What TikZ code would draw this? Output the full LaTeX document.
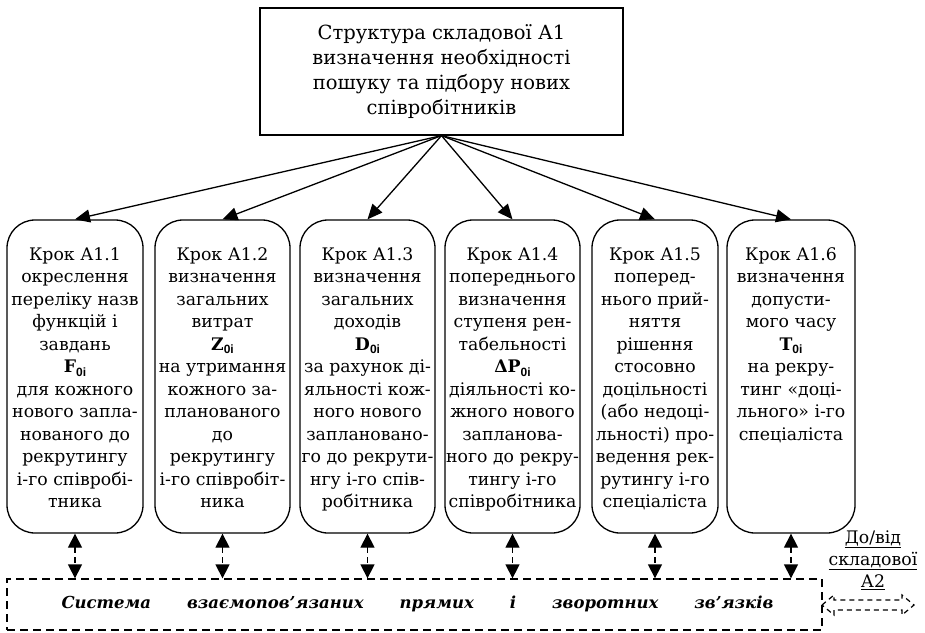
\documentclass[tikz,border=0pt]{standalone}
\usepackage{fontspec}
\setmainfont{DejaVu Serif}
\newfontfamily\subfont{Liberation Sans}
\usetikzlibrary{arrows.meta}

% bold symbol with a bold sans subscript
\newcommand{\idx}[2]{\textbf{#1}\raisebox{-0.4ex}{\subfont\bfseries\fontsize{12}{12}\selectfont #2}}

\tikzset{
  stepbox/.style={draw, line width=1.3pt, rounded corners=28pt, inner sep=0pt,
                  minimum height=313pt},
  steptext/.style={anchor=north, inner sep=0pt, align=center,
                   font=\fontsize{17.3}{22.5}\selectfont},
  toparrow/.style={line width=1.3pt, -{Triangle[length=15pt,width=13pt]}},
  biarrow/.style={line width=1.3pt, dash pattern=on 6pt off 4pt,
                  {Triangle[length=14pt,width=14pt]}-{Triangle[length=14pt,width=14pt]}},
}

\begin{document}
\begin{tikzpicture}[x=1pt,y=-1pt]
\useasboundingbox (0,0) rectangle (925,632);

% heading box
\node[draw, line width=1.2pt, minimum width=363pt, minimum height=127pt,
      align=center, font=\fontsize{19.5}{25}\selectfont] (top) at (441.5,71.5)
  {Структура складової А1\\визначення необхідності\\пошуку та підбору нових\\співробітників};

% step boxes
\node[stepbox, minimum width=136pt] (s1) at (75,376.5) {};
\node[stepbox, minimum width=135pt] (s2) at (222.5,376.5) {};
\node[stepbox, minimum width=135pt] (s3) at (367.5,376.5) {};
\node[stepbox, minimum width=135pt] (s4) at (512.5,376.5) {};
\node[stepbox, minimum width=126pt] (s5) at (655,376.5) {};
\node[stepbox, minimum width=128pt] (s6) at (791,376.5) {};

\node[steptext] (t1) at (75,247) {Крок А1.1\\окреслення\\переліку назв\\функцій і\\завдань\\\idx{F}{0i}\\для кожного\\нового запла-\\нованого до\\рекрутингу\\і-го співробі-\\тника};
\node[steptext] (t2) at (222.5,247) {Крок А1.2\\визначення\\загальних\\витрат\\\idx{Z}{0i}\\на утримання\\кожного за-\\планованого\\до\\рекрутингу\\і-го співробіт-\\ника};
\node[steptext] (t3) at (367.5,247) {Крок А1.3\\визначення\\загальних\\доходів\\\idx{D}{0i}\\за рахунок ді-\\яльності кож-\\ного нового\\заплановано-\\го до рекрути-\\нгу і-го спів-\\робітника};
\node[steptext] (t4) at (512.5,247) {Крок А1.4\\попереднього\\визначення\\ступеня рен-\\табельності\\\idx{ΔP}{0i}\\діяльності ко-\\жного нового\\запланова-\\ного до рекру-\\тингу і-го\\співробітника};
\node[steptext] (t5) at (655,247) {Крок А1.5\\поперед-\\нього прий-\\няття\\рішення\\стосовно\\доцільності\\(або недоці-\\льності) про-\\ведення рек-\\рутингу і-го\\спеціаліста};
\node[steptext] (t6) at (791,247) {Крок А1.6\\визначення\\допусти-\\мого часу\\\idx{T}{0i}\\на рекру-\\тинг «доці-\\льного» і-го\\спеціаліста};

% arrows from the heading to each step
\foreach \s in {s1,s2,s3,s4,s5,s6}
  \draw[toparrow] (top.south) -- (\s.north);

% system of links
\node[draw, line width=1.3pt, dash pattern=on 8pt off 5pt, inner sep=0pt,
      minimum width=815pt, minimum height=51pt] (sys) at (414.5,604.5) {};
\node[font=\fontsize{16.5}{18}\selectfont\bfseries\itshape, inner sep=0pt] (systext) at (417.5,604)
  {\makebox[712pt][s]{Система\hfill взаємопов’язаних\hfill прямих\hfill і\hfill зворотних\hfill зв’язків}};

\foreach \s in {s1,s2,s3,s4,s5,s6}
  \draw[biarrow] (\s.south) -- (\s.south |- sys.north);

% link to component A2
\node[align=center, inner sep=0pt, font=\fontsize{17.3}{22}\selectfont] (a2) at (873,560)
  {\underline{До/від}\\\underline{складової}\\\underline{А2}};
\coordinate (link) at (868,605);
\begin{scope}[shift={(link)}]
  \draw[line width=1.2pt, dash pattern=on 5pt off 4pt, line join=miter]
    (-46,0) -- (-34,-10) -- (-34,-5) -- (34,-5) -- (34,-10) -- (46,0)
    -- (34,10) -- (34,5) -- (-34,5) -- (-34,10) -- cycle;
\end{scope}
\end{tikzpicture}
\end{document}
